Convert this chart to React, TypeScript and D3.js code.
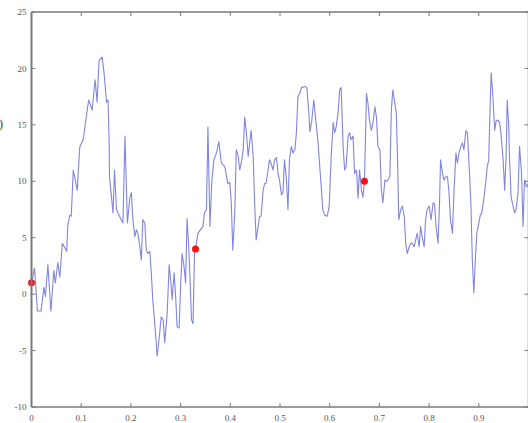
import React from "react";
import * as d3 from "d3";

const sampleX = [
  0.0, 0.006, 0.012, 0.019, 0.025, 0.028, 0.033, 0.039, 0.045, 0.048, 0.053, 0.057, 0.062, 0.071, 0.073, 0.077, 0.08, 0.084, 0.092, 0.097,
  0.104, 0.108, 0.115, 0.122, 0.128, 0.132, 0.136, 0.142, 0.146, 0.151, 0.154, 0.156, 0.157, 0.164, 0.167, 0.171, 0.177, 0.184, 0.188, 0.193,
  0.198, 0.201, 0.204, 0.208, 0.211, 0.214, 0.218, 0.221, 0.224, 0.228, 0.231, 0.234, 0.238, 0.241, 0.244, 0.248, 0.253, 0.258, 0.261, 0.265,
  0.268, 0.273, 0.277, 0.28, 0.283, 0.287, 0.29, 0.293, 0.297, 0.3, 0.303, 0.307, 0.31, 0.313, 0.317, 0.322, 0.325, 0.328, 0.33, 0.335,
  0.34, 0.345, 0.348, 0.352, 0.355, 0.359, 0.363, 0.367, 0.372, 0.377, 0.382, 0.389, 0.395, 0.399, 0.402, 0.405, 0.409, 0.412, 0.416, 0.419,
  0.422, 0.426, 0.429, 0.432, 0.436, 0.439, 0.442, 0.446, 0.449, 0.452, 0.456, 0.459, 0.462, 0.466, 0.469, 0.472, 0.476, 0.479, 0.482, 0.486,
  0.489, 0.493, 0.496, 0.499, 0.503, 0.506, 0.509, 0.513, 0.516, 0.519, 0.523, 0.526, 0.53, 0.533, 0.536, 0.54, 0.543, 0.55, 0.554, 0.558,
  0.56, 0.564, 0.568, 0.572, 0.576, 0.582, 0.586, 0.59, 0.595, 0.599, 0.603, 0.607, 0.61, 0.613, 0.617, 0.62, 0.623, 0.627, 0.63, 0.633,
  0.637, 0.64, 0.643, 0.647, 0.65, 0.654, 0.657, 0.66, 0.664, 0.667, 0.67, 0.674, 0.677, 0.68, 0.684, 0.687, 0.691, 0.694, 0.697, 0.701,
  0.704, 0.707, 0.711, 0.714, 0.717, 0.721, 0.724, 0.727, 0.731, 0.734, 0.737, 0.739, 0.743, 0.746, 0.75, 0.753, 0.756, 0.76, 0.763, 0.766,
  0.77, 0.773, 0.776, 0.78, 0.783, 0.786, 0.79, 0.793, 0.796, 0.8, 0.804, 0.808, 0.811, 0.814, 0.818, 0.821, 0.823, 0.827, 0.83, 0.833,
  0.837, 0.84, 0.843, 0.847, 0.85, 0.854, 0.857, 0.86, 0.864, 0.867, 0.87, 0.874, 0.877, 0.88, 0.884, 0.887, 0.89, 0.893, 0.896, 0.9,
  0.903, 0.906, 0.91, 0.913, 0.917, 0.92, 0.923, 0.925, 0.929, 0.932, 0.935, 0.939, 0.942, 0.945, 0.949, 0.952, 0.955, 0.957, 0.96, 0.962,
  0.965, 0.969, 0.972, 0.975, 0.979, 0.982, 0.986, 0.989, 0.992, 0.996, 1.0,
];

const sampleY = [
  1.0, 2.3, -1.5, -1.5, 0.6, -0.2, 2.6, -1.5, 2.1, 1.0, 2.8, 1.5, 4.5, 3.8, 6.1, 7.0, 6.9, 11.0, 9.2, 13.0,
  13.7, 15.0, 17.2, 16.3, 19.0, 17.0, 20.7, 21.0, 19.6, 17.0, 17.2, 14.0, 10.4, 7.2, 11.0, 7.5, 6.9, 6.3, 14.0, 6.3,
  8.6, 9.0, 6.6, 5.1, 5.7, 5.4, 4.2, 3.0, 6.6, 6.3, 3.9, 3.6, 3.8, 1.9, -0.5, -2.6, -5.5, -3.4, -2.0, -2.3,
  -4.3, -1.7, 2.6, 1.3, -0.5, 1.9, -0.2, -2.9, -3.0, 0.7, 3.6, 2.4, 1.0, 6.7, 3.6, -2.3, -2.6, 3.6, 4.0, 5.4,
  5.7, 6.0, 7.2, 7.5, 14.8, 6.0, 10.1, 11.9, 12.5, 13.5, 11.6, 11.3, 9.8, 9.9, 8.1, 3.9, 7.2, 12.8, 12.2, 11.0,
  11.6, 12.8, 15.7, 14.5, 12.2, 13.4, 14.5, 12.2, 8.1, 4.8, 6.0, 6.9, 6.9, 9.2, 9.8, 9.8, 11.0, 11.9, 11.6, 11.0,
  11.9, 12.1, 10.7, 10.1, 8.8, 9.0, 11.9, 10.1, 7.5, 11.9, 13.1, 12.5, 12.8, 14.3, 17.5, 17.8, 18.3, 18.4, 18.3, 16.1,
  14.4, 15.4, 17.2, 15.4, 13.7, 10.1, 7.5, 7.0, 6.9, 7.8, 12.2, 15.2, 14.3, 14.8, 16.1, 18.1, 18.3, 13.1, 11.0, 11.3,
  14.0, 14.3, 13.7, 14.0, 10.7, 11.0, 8.5, 11.0, 9.2, 8.6, 10.0, 17.8, 16.9, 15.4, 14.5, 15.2, 16.6, 15.7, 13.1, 12.8,
  9.2, 8.1, 10.1, 10.0, 10.1, 10.4, 16.3, 18.1, 16.9, 16.1, 11.0, 6.6, 7.5, 7.8, 6.9, 4.5, 3.6, 4.2, 4.5, 4.5,
  4.2, 4.8, 5.4, 4.2, 6.0, 5.1, 4.2, 6.6, 7.5, 7.8, 6.6, 8.1, 8.0, 6.0, 4.5, 8.1, 11.9, 10.7, 10.1, 10.4,
  10.4, 9.0, 6.6, 5.4, 9.0, 12.5, 11.6, 12.5, 13.1, 13.4, 12.8, 14.5, 14.3, 11.9, 8.1, 3.0, 0.1, 3.0, 5.4, 6.3,
  7.0, 7.2, 8.4, 9.5, 11.3, 11.9, 17.0, 19.6, 17.0, 14.5, 15.4, 15.4, 15.2, 14.0, 11.9, 9.2, 12.2, 17.2, 15.2, 11.9,
  8.6, 7.8, 7.2, 7.5, 9.0, 13.1, 10.7, 6.0, 10.1, 9.5, 9.8,
];

const markerX = [0, 0.33, 0.67];
const markerY = [1, 4, 10];

const xTicks = [0, 0.1, 0.2, 0.3, 0.4, 0.5, 0.6, 0.7, 0.8, 0.9, 1];
const xTickLabels = ["0", "0.1", "0.2", "0.3", "0.4", "0.5", "0.6", "0.7", "0.8", "0.9", ""];
const yTicks = [-10, -5, 0, 5, 10, 15, 20, 25];
const yTickLabels = ["-10", "-5", "0", "5", "10", "15", "20", "25"];

export default function App() {
  const W = 528;
  const H = 423;
  const left = 31.5;
  const right = 528.5;
  const top = 12;
  const bottom = 407;

  const x = d3.scaleLinear().domain([0, 1]).range([left, right]);
  const y = d3.scaleLinear().domain([-10, 25]).range([bottom, top]);

  const pts = sampleX.map((xv, i) => [xv, sampleY[i]] as [number, number]);
  const line = d3
    .line<[number, number]>()
    .x((d) => x(d[0]))
    .y((d) => y(d[1]));

  const axisColor = "#7a7a7a";
  const labelColor = "#555";
  const tickLen = 4;
  const font = "'Liberation Serif', serif";

  return (
    <svg
      width={W}
      height={H}
      style={{ position: "absolute", left: 0, top: 0, background: "#fff" }}
    >
      <rect x={0} y={0} width={W} height={H} fill="#fff" />
      <path
        d={line(pts) || ""}
        fill="none"
        stroke="#6266d6"
        strokeWidth={1.1}
        strokeOpacity={0.8}
        strokeLinejoin="round"
      />
      {markerX.map((mx, i) => (
        <circle key={i} cx={x(mx)} cy={y(markerY[i])} r={3.5} fill="#ff1010" />
      ))}
      <line x1={left} x2={right} y1={top} y2={top} stroke={axisColor} strokeWidth={1.5} />
      <line x1={left} x2={right} y1={bottom} y2={bottom} stroke={axisColor} strokeWidth={1.5} />
      <line x1={left} x2={left} y1={top} y2={bottom} stroke={axisColor} strokeWidth={2} />
      <line x1={right} x2={right} y1={top} y2={bottom} stroke={axisColor} strokeWidth={1.5} />
      {xTicks.map((t, i) => (
        <g key={"xt" + i}>
          <line x1={x(t)} x2={x(t)} y1={bottom} y2={bottom - tickLen} stroke={axisColor} strokeWidth={1} />
          <line x1={x(t)} x2={x(t)} y1={top} y2={top + tickLen} stroke={axisColor} strokeWidth={1} />
          {xTickLabels[i] ? (
            <text
              x={x(t)}
              y={bottom + 14}
              textAnchor="middle"
              fontSize={9}
              fontFamily={font}
              fill={labelColor}
            >
              {xTickLabels[i]}
            </text>
          ) : null}
        </g>
      ))}
      {yTicks.map((t, i) => (
        <g key={"yt" + i}>
          <line x1={left} x2={left + tickLen} y1={y(t)} y2={y(t)} stroke={axisColor} strokeWidth={1} />
          <line x1={right} x2={right - tickLen} y1={y(t)} y2={y(t)} stroke={axisColor} strokeWidth={1} />
          <text
            x={left - 5}
            y={y(t)}
            dy="0.35em"
            textAnchor="end"
            fontSize={9}
            fontFamily={font}
            fill={labelColor}
          >
            {yTickLabels[i]}
          </text>
        </g>
      ))}
      <text x={-1} y={128} fontSize={12} fontFamily={font} fill="#333">
        )
      </text>
    </svg>
  );
}
